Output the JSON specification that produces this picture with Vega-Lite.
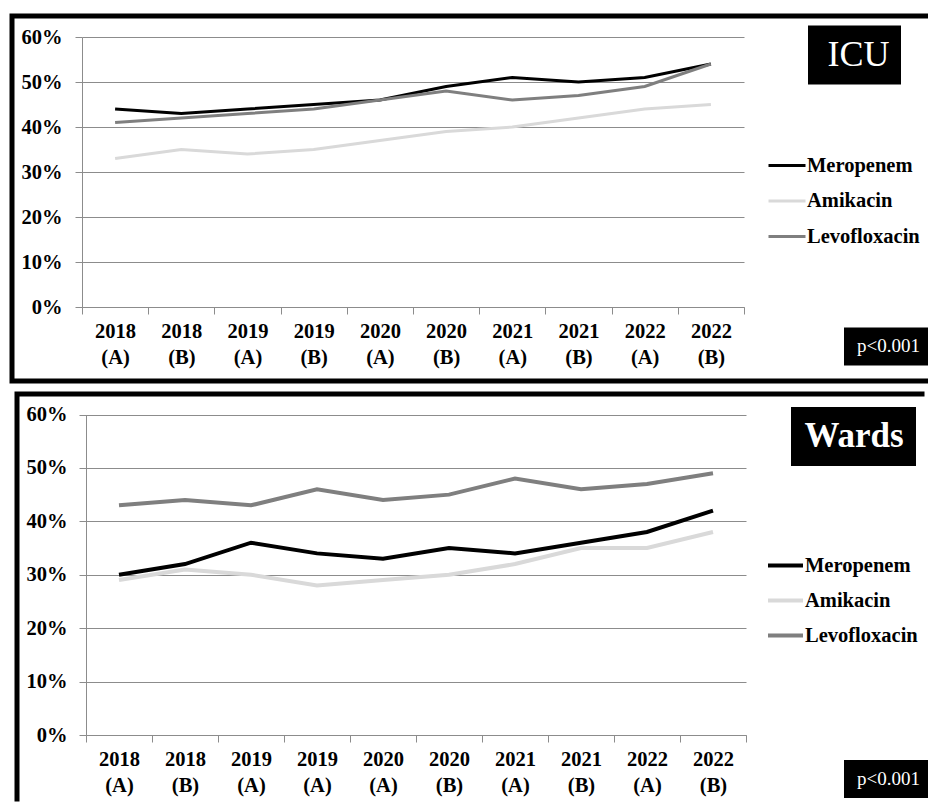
{
  "$schema": "https://vega.github.io/schema/vega-lite/v6.json",
  "padding": {"left": 8, "top": 12, "right": 0, "bottom": 0},
  "background": "white",
  "spacing": 13,
  "bounds": "flush",
  "center": true,
  "datasets": {
    "icu": [
      {"period": "2018 (A)", "drug": "Meropenem", "value": 44},
      {"period": "2018 (B)", "drug": "Meropenem", "value": 43},
      {"period": "2019 (A)", "drug": "Meropenem", "value": 44},
      {"period": "2019 (B)", "drug": "Meropenem", "value": 45},
      {"period": "2020 (A)", "drug": "Meropenem", "value": 46},
      {"period": "2020 (B)", "drug": "Meropenem", "value": 49},
      {"period": "2021 (A)", "drug": "Meropenem", "value": 51},
      {"period": "2021 (B)", "drug": "Meropenem", "value": 50},
      {"period": "2022 (A)", "drug": "Meropenem", "value": 51},
      {"period": "2022 (B)", "drug": "Meropenem", "value": 54},
      {"period": "2018 (A)", "drug": "Amikacin", "value": 33},
      {"period": "2018 (B)", "drug": "Amikacin", "value": 35},
      {"period": "2019 (A)", "drug": "Amikacin", "value": 34},
      {"period": "2019 (B)", "drug": "Amikacin", "value": 35},
      {"period": "2020 (A)", "drug": "Amikacin", "value": 37},
      {"period": "2020 (B)", "drug": "Amikacin", "value": 39},
      {"period": "2021 (A)", "drug": "Amikacin", "value": 40},
      {"period": "2021 (B)", "drug": "Amikacin", "value": 42},
      {"period": "2022 (A)", "drug": "Amikacin", "value": 44},
      {"period": "2022 (B)", "drug": "Amikacin", "value": 45},
      {"period": "2018 (A)", "drug": "Levofloxacin", "value": 41},
      {"period": "2018 (B)", "drug": "Levofloxacin", "value": 42},
      {"period": "2019 (A)", "drug": "Levofloxacin", "value": 43},
      {"period": "2019 (B)", "drug": "Levofloxacin", "value": 44},
      {"period": "2020 (A)", "drug": "Levofloxacin", "value": 46},
      {"period": "2020 (B)", "drug": "Levofloxacin", "value": 48},
      {"period": "2021 (A)", "drug": "Levofloxacin", "value": 46},
      {"period": "2021 (B)", "drug": "Levofloxacin", "value": 47},
      {"period": "2022 (A)", "drug": "Levofloxacin", "value": 49},
      {"period": "2022 (B)", "drug": "Levofloxacin", "value": 54}
    ],
    "wards": [
      {"period": "2018 (A)", "drug": "Meropenem", "value": 30},
      {"period": "2018 (B)", "drug": "Meropenem", "value": 32},
      {"period": "2019 (A)", "drug": "Meropenem", "value": 36},
      {"period": "2019 (B)", "drug": "Meropenem", "value": 34},
      {"period": "2020 (A)", "drug": "Meropenem", "value": 33},
      {"period": "2020 (B)", "drug": "Meropenem", "value": 35},
      {"period": "2021 (A)", "drug": "Meropenem", "value": 34},
      {"period": "2021 (B)", "drug": "Meropenem", "value": 36},
      {"period": "2022 (A)", "drug": "Meropenem", "value": 38},
      {"period": "2022 (B)", "drug": "Meropenem", "value": 42},
      {"period": "2018 (A)", "drug": "Amikacin", "value": 29},
      {"period": "2018 (B)", "drug": "Amikacin", "value": 31},
      {"period": "2019 (A)", "drug": "Amikacin", "value": 30},
      {"period": "2019 (B)", "drug": "Amikacin", "value": 28},
      {"period": "2020 (A)", "drug": "Amikacin", "value": 29},
      {"period": "2020 (B)", "drug": "Amikacin", "value": 30},
      {"period": "2021 (A)", "drug": "Amikacin", "value": 32},
      {"period": "2021 (B)", "drug": "Amikacin", "value": 35},
      {"period": "2022 (A)", "drug": "Amikacin", "value": 35},
      {"period": "2022 (B)", "drug": "Amikacin", "value": 38},
      {"period": "2018 (A)", "drug": "Levofloxacin", "value": 43},
      {"period": "2018 (B)", "drug": "Levofloxacin", "value": 44},
      {"period": "2019 (A)", "drug": "Levofloxacin", "value": 43},
      {"period": "2019 (B)", "drug": "Levofloxacin", "value": 46},
      {"period": "2020 (A)", "drug": "Levofloxacin", "value": 44},
      {"period": "2020 (B)", "drug": "Levofloxacin", "value": 45},
      {"period": "2021 (A)", "drug": "Levofloxacin", "value": 48},
      {"period": "2021 (B)", "drug": "Levofloxacin", "value": 46},
      {"period": "2022 (A)", "drug": "Levofloxacin", "value": 47},
      {"period": "2022 (B)", "drug": "Levofloxacin", "value": 49}
    ]
  },
  "vconcat": [
    {
      "width": 915,
      "height": 365,
      "view": {"stroke": "black", "strokeWidth": 5, "strokeDash": [915, 365, 1300], "strokeCap": "square", "fill": "white"},
      "layer": [
        {
          "data": {"name": "icu"},
          "mark": {"type": "line", "strokeWidth": 3},
          "encoding": {
            "x": {
              "field": "period", "type": "nominal",
              "scale": {"type": "band", "range": [70, 732], "paddingInner": 0, "paddingOuter": 0},
              "axis": {"title": null, "offset": -74, "tickBand": "extent", "labelExpr": "isValid(datum.value) ? split(datum.value, ' ') : ''", "labelAngle": 0, "labelPadding": 7, "labelLineHeight": 26, "grid": false}
            },
            "y": {
              "field": "value", "type": "quantitative",
              "scale": {"domain": [0, 60], "range": [291, 21], "nice": false, "zero": true},
              "axis": {"title": null, "offset": -70, "values": [0, 10, 20, 30, 40, 50, 60], "labelExpr": "datum.value + '%'", "grid": true, "labelPadding": 13}
            },
            "color": {
              "field": "drug", "type": "nominal",
              "scale": {"domain": ["Meropenem", "Amikacin", "Levofloxacin"], "range": ["#000000", "#d9d9d9", "#7f7f7f"]},
              "legend": {"title": null, "orient": "none", "legendX": 755, "legendY": 132, "symbolType": "stroke", "symbolSize": 1369, "symbolStrokeWidth": 3, "clipHeight": 35, "rowPadding": 0.5, "labelOffset": 0, "labelFont": "Liberation Serif", "labelFontWeight": "bold", "labelFontSize": 20.5, "labelColor": "black", "padding": 0}
            }
          }
        },
        {
          "data": {"values": [{"unit": "ICU", "p": "p<0.001"}]},
          "mark": {"type": "point", "opacity": 0},
          "encoding": {
            "fill": {
              "field": "unit", "type": "nominal",
              "scale": {"range": ["black"]},
              "legend": {"title": null, "orient": "none", "legendX": 796, "legendY": 9.5, "fillColor": "black", "padding": 11.5, "symbolSize": 0, "symbolOpacity": 0, "labelOffset": -28, "labelFont": "Liberation Serif", "labelFontWeight": "normal", "labelFontSize": 36, "labelColor": "white", "labelExpr": "datum.label + '\u00a0'"}
            },
            "shape": {
              "field": "p", "type": "nominal",
              "legend": {"title": null, "orient": "none", "legendX": 832, "legendY": 311.5, "fillColor": "black", "padding": 9, "symbolSize": 0, "symbolOpacity": 0, "labelOffset": -15, "labelFont": "Liberation Serif", "labelFontWeight": "normal", "labelFontSize": 19, "labelColor": "white"}
            }
          }
        }
      ]
    },
    {
      "width": 905,
      "height": 405,
      "view": {"stroke": "black", "strokeWidth": 5, "strokeDash": [905, 1310, 410], "strokeCap": "square", "fill": "white"},
      "layer": [
        {
          "data": {"name": "wards"},
          "mark": {"type": "line", "strokeWidth": 4},
          "encoding": {
            "x": {
              "field": "period", "type": "nominal",
              "scale": {"type": "band", "range": [69, 729], "paddingInner": 0, "paddingOuter": 0},
              "axis": {"title": null, "offset": -64, "tickBand": "extent", "labelExpr": "!isValid(datum.value) ? '' : datum.value == '2019 (B)' ? ['2019', '(A)'] : split(datum.value, ' ')", "labelAngle": 0, "labelPadding": 7, "labelLineHeight": 26, "grid": false}
            },
            "y": {
              "field": "value", "type": "quantitative",
              "scale": {"domain": [0, 60], "range": [341, 20.5], "nice": false, "zero": true},
              "axis": {"title": null, "offset": -69, "values": [0, 10, 20, 30, 40, 50, 60], "labelExpr": "datum.value + '%'", "grid": true, "labelPadding": 12}
            },
            "color": {
              "field": "drug", "type": "nominal",
              "scale": {"domain": ["Meropenem", "Amikacin", "Levofloxacin"], "range": ["#000000", "#d9d9d9", "#7f7f7f"]},
              "legend": {"title": null, "orient": "none", "legendX": 749, "legendY": 154, "symbolType": "stroke", "symbolSize": 1225, "symbolStrokeWidth": 4, "clipHeight": 35, "rowPadding": 0, "labelOffset": 0, "labelFont": "Liberation Serif", "labelFontWeight": "bold", "labelFontSize": 20.5, "labelColor": "black", "padding": 0}
            }
          }
        },
        {
          "data": {"values": [{"unit": "Wards", "p": "p<0.001"}]},
          "mark": {"type": "point", "opacity": 0},
          "encoding": {
            "fill": {
              "field": "unit", "type": "nominal",
              "scale": {"range": ["black"]},
              "legend": {"title": null, "orient": "none", "legendX": 774, "legendY": 13, "fillColor": "black", "padding": 11.5, "symbolSize": 0, "symbolOpacity": 0, "labelOffset": -33, "labelFont": "Liberation Serif", "labelFontWeight": "bold", "labelFontSize": 35, "labelColor": "white"}
            },
            "shape": {
              "field": "p", "type": "nominal",
              "legend": {"title": null, "orient": "none", "legendX": 827, "legendY": 366, "fillColor": "black", "padding": 9, "symbolSize": 0, "symbolOpacity": 0, "labelOffset": -15, "labelFont": "Liberation Serif", "labelFontWeight": "normal", "labelFontSize": 19, "labelColor": "white"}
            }
          }
        }
      ]
    }
  ],
  "resolve": {
    "scale": {"x": "independent", "y": "independent", "color": "independent", "fill": "independent", "shape": "independent"}
  },
  "config": {
    "axis": {
      "labelFont": "Liberation Serif",
      "labelFontWeight": "bold",
      "labelFontSize": 20.5,
      "labelColor": "black",
      "domainColor": "#8c8c8c",
      "tickColor": "#8c8c8c",
      "gridColor": "#8c8c8c",
      "gridOpacity": 1,
      "tickSize": 7,
      "domainWidth": 1,
      "tickWidth": 1,
      "gridWidth": 1,
      "labelOverlap": false,
      "labelBound": false,
      "labelFlush": false
    },
    "legend": {"labelLimit": 400}
  }
}
